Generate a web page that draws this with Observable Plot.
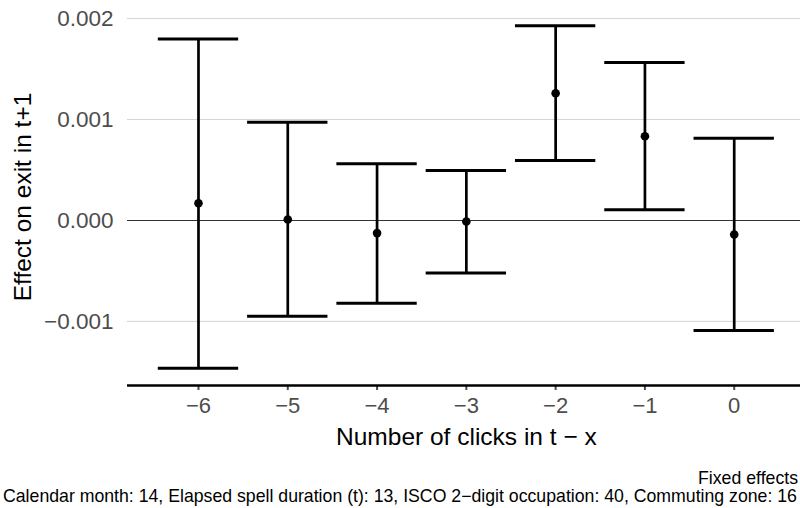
<!DOCTYPE html>
<html>
<head>
<meta charset="utf-8">
<script src="https://cdn.jsdelivr.net/npm/d3@7"></script>
<script src="https://cdn.jsdelivr.net/npm/@observablehq/plot@0.6"></script>
<style>
  html, body { margin: 0; padding: 0; background: #fff; }
  #wrap { position: relative; width: 800px; height: 508px; overflow: hidden; font-family: "Liberation Sans", Arial, sans-serif; }
  #chart { position: absolute; left: 0; top: 0; }
  .cap { position: absolute; font-size: 17.7px; line-height: 17px; white-space: nowrap; color: #000; }
  #cap1 { right: 2px; top: 470px; }
  #cap2 { left: 3px; top: 488px; }
</style>
</head>
<body>
<div id="wrap">
  <div id="chart"></div>
  <div class="cap" id="cap1">Fixed effects</div>
  <div class="cap" id="cap2">Calendar month: 14, Elapsed spell duration (t): 13, ISCO 2−digit occupation: 40, Commuting zone: 16</div>
</div>
<script>
// Data
const clicks   = [-6, -5, -4, -3, -2, -1, 0];
const estimate = [0.000171, 0.000010, -0.000125, -0.000010, 0.001260, 0.000835, -0.000139];
const lower    = [-0.001465, -0.000948, -0.000819, -0.000521, 0.000594, 0.000106, -0.001089];
const upper    = [0.001799, 0.000973, 0.000561, 0.000495, 0.001930, 0.001564, 0.000815];
const yTicks   = [-0.001, 0, 0.001, 0.002];
const xLabel   = "Number of clicks in t − x";
const yLabel   = "Effect on exit in t+1";

const data = clicks.map((x, i) => ({x, est: estimate[i], lo: lower[i], hi: upper[i]}));
const capHalf = 0.45;
const yMin = -0.001635, yMax = 0.0021;

const chart = Plot.plot({
  width: 800,
  height: 460,
  marginLeft: 127,
  marginRight: 0,
  marginTop: 8,
  marginBottom: 75,
  style: {fontFamily: "Liberation Sans, Arial, sans-serif", background: "white", overflow: "visible"},
  x: {type: "linear", domain: [-6.795, 0.795], range: [127, 804.7]},
  y: {domain: [yMin, yMax]},
  marks: [
    Plot.ruleY(yTicks.filter(d => d !== 0), {stroke: "#cfcfcf", strokeWidth: 0.9}),
    Plot.ruleY([0], {stroke: "#333333", strokeWidth: 1.1}),
    Plot.ruleX(data, {x: "x", y1: "lo", y2: "hi", stroke: "black", strokeWidth: 2.7}),
    Plot.ruleY(data, {y: "hi", x1: d => d.x - capHalf, x2: d => d.x + capHalf, stroke: "black", strokeWidth: 3}),
    Plot.ruleY(data, {y: "lo", x1: d => d.x - capHalf, x2: d => d.x + capHalf, stroke: "black", strokeWidth: 3}),
    Plot.dot(data, {x: "x", y: "est", r: 4.3, fill: "black", stroke: null}),
    Plot.axisX({ticks: clicks, tickFormat: d3.format("d"), tickSize: 5, tickPadding: 7, fontSize: 22, color: "#4d4d4d", strokeWidth: 2, label: null}),
    Plot.ruleY([yMin], {stroke: "black", strokeWidth: 2.4}),
    Plot.axisY({ticks: yTicks, tickFormat: d3.format(".3f"), tickSize: 0, tickPadding: 14, fontSize: 22.5, color: "#4d4d4d", label: null}),
    Plot.text([yLabel], {frameAnchor: "left", textAnchor: "middle", lineAnchor: "middle", rotate: -90, dx: -104, fontSize: 24.5, fill: "black"}),
    Plot.text([xLabel], {frameAnchor: "bottom", textAnchor: "middle", lineAnchor: "middle", dy: 52, dx: 2.4, fontSize: 24.5, fill: "black"})
  ]
});
document.getElementById("chart").appendChild(chart);
</script>
</body>
</html>
